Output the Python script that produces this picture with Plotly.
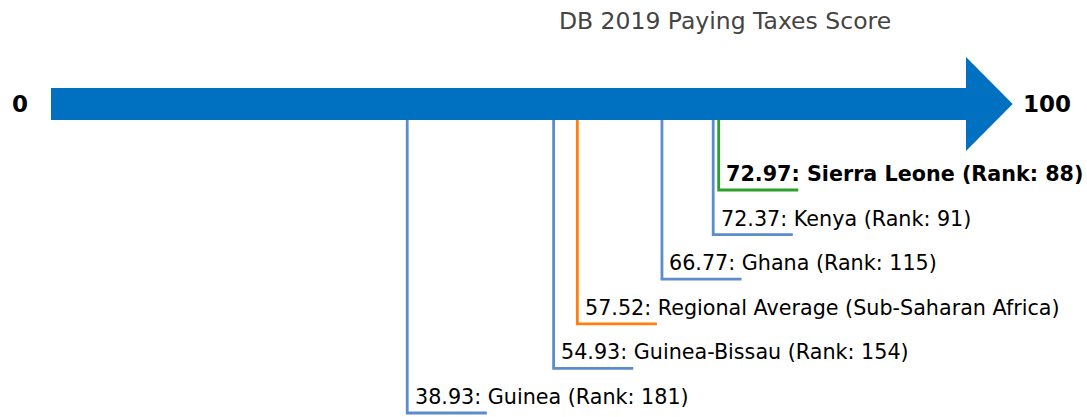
import plotly.graph_objects as go

countries = ["Sierra Leone", "Kenya", "Ghana", "Regional Average (Sub-Saharan Africa)", "Guinea-Bissau", "Guinea"]
scores = [72.97, 72.37, 66.77, 57.52, 54.93, 38.93]
ranks = [88, 91, 115, None, 154, 181]
line_colors = ["#2ca02c", "#5b8ccb", "#5b8ccb", "#ff7f0e", "#5b8ccb", "#5b8ccb"]

# y is in pixel-like units (top = 0)
bar_top, bar_bottom = 88, 120
level0, level_step = 190, 44.6
stub = 8.7

fig = go.Figure()

for i, (name, score, rank, col) in enumerate(zip(countries, scores, ranks, line_colors)):
    level = level0 + i * level_step
    fig.add_trace(go.Scatter(x=[score, score, score + stub], y=[bar_bottom, level, level],
                             mode="lines", line=dict(color=col, width=2.8),
                             hoverinfo="skip", showlegend=False))
    label = f"{score:.2f}: {name}" + (f" (Rank: {rank})" if rank else "")
    if name == "Sierra Leone":
        label = f"<b>{label}</b>"
    fig.add_annotation(x=score + 0.6, y=level - 16, text=label, showarrow=False,
                       xanchor="left", yanchor="middle",
                       font=dict(size=20.7, color="#000000"))

# arrow
fig.add_shape(type="rect", x0=0, x1=100, y0=bar_top, y1=bar_bottom,
              fillcolor="#0070c0", line_width=0, layer="below")
fig.add_shape(type="path", path="M 100 57 L 105.1 104 L 100 151 Z",
              fillcolor="#0070c0", line_width=0, layer="below")

fig.add_annotation(x=-3.4, y=104, text="<b>0</b>", showarrow=False,
                   font=dict(size=23, color="#000000"))
fig.add_annotation(x=108.9, y=104, text="<b>100</b>", showarrow=False,
                   font=dict(size=23, color="#000000"))

fig.update_layout(
    title=dict(text="DB 2019 Paying Taxes Score", x=725 / 1087, xanchor="center",
               y=0.971, yanchor="top", font=dict(size=23.5, color="#444444")),
    font=dict(family="DejaVu Sans"),
    width=1087, height=417,
    margin=dict(l=0, r=0, t=0, b=0),
    plot_bgcolor="white", paper_bgcolor="white",
    xaxis=dict(range=[-51 / 9.15, (1087 - 51) / 9.15], visible=False, fixedrange=True),
    yaxis=dict(range=[417, 0], visible=False, fixedrange=True),
)

fig.write_html("out.html", config={"displayModeBar": False},
               post_script="document.body.style.margin='0';")
